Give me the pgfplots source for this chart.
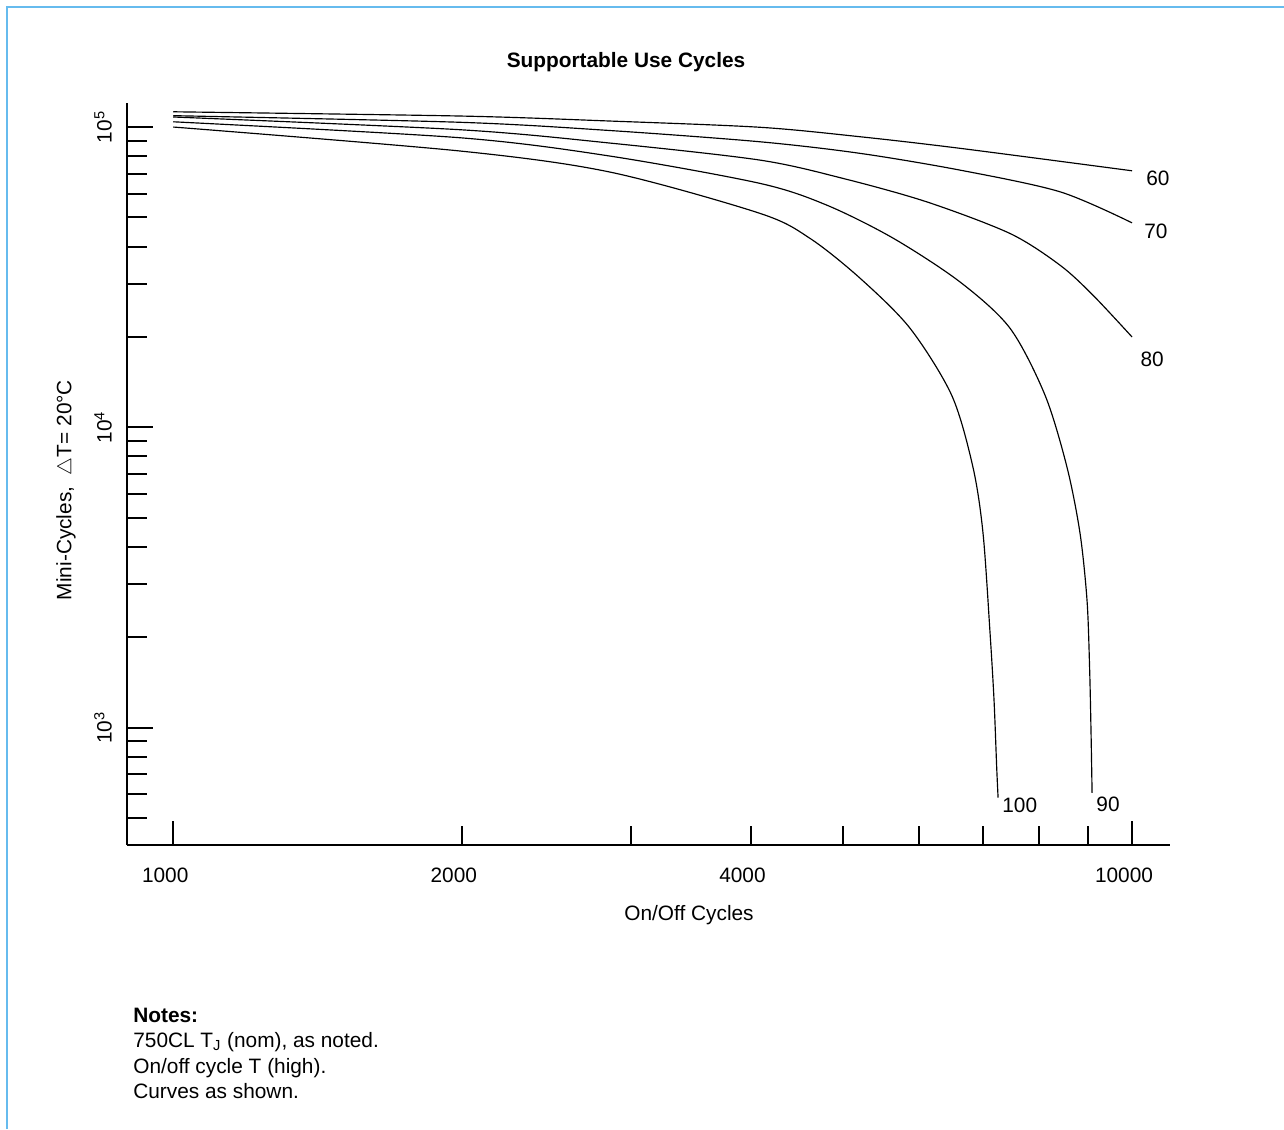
\documentclass[border=0pt]{standalone}
\usepackage{fontspec}
\setmainfont{Liberation Sans}
\usepackage{pgfplots}
\pgfplotsset{compat=1.18}
\definecolor{frameblue}{HTML}{66BBEE}

\begin{document}
\fontsize{12.5}{15}\selectfont
\begin{tikzpicture}
% page: 1 px of the reference = 0.6pt
\useasboundingbox (0,0) rectangle (770.4pt,-677.4pt);
\draw[frameblue, line width=1.2pt] (4.2pt,-677.4pt) -- (4.2pt,-4.2pt) -- (770.4pt,-4.2pt);

\node[font=\bfseries] at (375.6pt,-37.2pt) {Supportable Use Cycles};

\begin{axis}[
    at={(76.2pt,-507pt)}, anchor=south west,
    scale only axis,
    width=625.8pt, height=445.2pt,
    xmode=log, ymode=log,
    xmin=895, xmax=10956,
    ymin=407, ymax=120226,
    axis x line*=bottom, axis y line*=left,
    axis line style={line width=1.2pt, -},
    every tick/.style={black, line width=1.2pt},
    tick align=inside,
    major tick length=11.7pt,
    xtick={2000,3000,4000,5000,6000,7000,8000,9000},
    xticklabels={2000,,4000,,,,,},
    minor xtick={},
    extra x ticks={1000,10000},
    extra x tick labels={1000,10000},
    extra x tick style={major tick length=14.4pt},
    xticklabel style={anchor=center, yshift=-18pt, xshift=-4.8pt},
    ytick={500,600,700,800,900,2000,3000,4000,5000,6000,7000,8000,9000,
           20000,30000,40000,50000,60000,70000,80000,90000},
    yticklabels={},
    minor ytick={},
    extra y ticks={1000,10000,100000},
    extra y tick labels={10\textsuperscript{3},10\textsuperscript{4},10\textsuperscript{5}},
    extra y tick style={major tick length=15.6pt},
    yticklabel style={xshift=-14.4pt, rotate=90, anchor=center},
    clip=false,
]
% 60
\addplot[black, line width=0.7pt, smooth, tension=0.5] coordinates {
  (1000,112400)(1992,108800)(2855,104700)(4094,99800)(5204,92830)(6616,84950)(10000,71500)
};
% 70
\addplot[black, line width=0.7pt, smooth, tension=0.5] coordinates {
  (1000,109100)(1992,103700)(2855,97350)(4094,89300)(5204,81730)(6616,71880)(8413,60860)(10000,47970)
};
% 80
\addplot[black, line width=0.7pt, smooth, tension=0.5] coordinates {
  (1000,108000)(1992,97950)(2855,88430)(4094,77600)(4995,67450)(6107,56360)(7461,44210)(8413,34670)(9106,27540)(10000,20000)
};
% 90
\addplot[black, line width=0.7pt, smooth, tension=0.5] coordinates {
  (1000,104100)(1992,92100)(2855,80030)(4094,64900)(4804,54950)(5634,42660)(6616,30500)(7461,21380)(8116,12780)(8555,7360)(8827,4430)(8976,2650)(9031,1585)(9063,955)(9085,607)
};
% 100
\addplot[black, line width=0.7pt, smooth, tension=0.5] coordinates {
  (1000,100000)(1992,83200)(2855,70800)(4094,51560)(4616,42560)(5204,31380)(5868,21380)(6486,12780)(6826,7360)(6993,4430)(7112,2057)(7180,1230)(7226,736)(7250,585)
};
\node at (axis cs:10640,67600) {60};
\node at (axis cs:10590,45000) {70};
\node at (axis cs:10494,16860) {80};
\node at (axis cs:7638,550) {100};
\node at (axis cs:9440,554) {90};
\end{axis}

\node at (413.4pt,-549pt) {On/Off Cycles};
\node[rotate=90] at (39.6pt,-294pt) {Mini-Cycles,\ \ $\triangle$T= 20\textdegree C};

\node[anchor=north west, align=left, font=\fontsize{12.5}{15.3}\selectfont, inner sep=0pt]
  at (79.8pt,-604.5pt) {\textbf{Notes:}\\
  750CL T\textsubscript{J} (nom), as noted.\\
  On/off cycle T (high).\\
  Curves as shown.};
\end{tikzpicture}
\end{document}
